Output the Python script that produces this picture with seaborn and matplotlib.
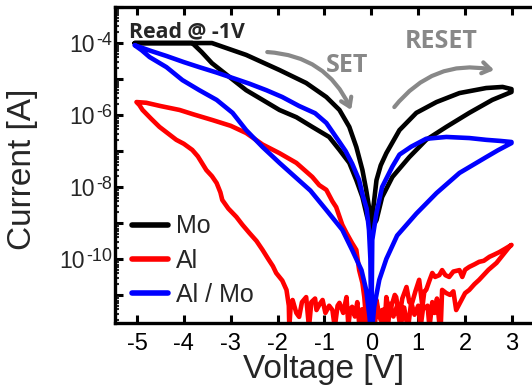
import numpy as np
import pandas as pd
import seaborn as sns
import matplotlib
matplotlib.use("Agg")
import matplotlib.pyplot as plt
from matplotlib.ticker import FixedLocator, FuncFormatter, LogLocator, NullFormatter

# ---------------- data (voltage [V], log10 current [A]) ----------------
mo_v = [0.00, -0.04, -0.11, -0.19, -0.32, -0.47, -0.68, -0.96, -1.39, -1.96, -2.67, -3.40,
        -5.05, -3.82, -3.62, -3.40, -3.03, -2.67, -2.32, -1.96, -1.60, -1.26, -0.90, -0.68,
        -0.47, -0.32, -0.19, -0.09, 0.00,
        0.04, 0.11, 0.20, 0.32, 0.60, 0.96, 1.39, 1.88, 2.45, 2.80, 2.99,
        2.99, 2.58, 2.09, 1.60, 1.17, 0.81, 0.45, 0.23, 0.11, 0.03, 0.00]
mo_log = [-9.20, -8.64, -8.08, -7.53, -6.89, -6.33, -5.86, -5.50, -5.11, -4.75, -4.33, -4.00,
          -4.00, -4.00, -4.25, -4.56, -4.94, -5.31, -5.58, -5.86, -6.06, -6.33, -6.61, -6.97,
          -7.33, -7.81, -8.28, -8.83, -9.20,
          -8.60, -7.81, -7.40, -7.06, -6.42, -5.94, -5.64, -5.39, -5.25, -5.22, -5.28,
          -5.36, -5.58, -5.94, -6.33, -6.69, -7.17, -7.72, -8.28, -8.92, -9.10, -9.20]

al_v = [-0.08, -0.11, -0.15, -0.19, -0.26, -0.32, -0.41, -0.53, -0.62, -0.75, -0.83, -0.96,
        -1.11, -1.26, -1.60, -1.96, -2.32, -2.67, -3.00, -3.39, -3.80, -4.09, -4.50, -4.80, -5.01,
        -4.95, -4.88, -4.70, -4.52, -4.35, -4.16, -4.00, -3.82, -3.70, -3.52, -3.40, -3.30,
        -3.22, -3.18, -3.05, -2.88, -2.75, -2.60, -2.45, -2.32, -2.20, -2.10, -2.03, -1.90,
        -1.81, -1.76, -1.75,
        -1.72, -1.68, -1.60, -1.54, -1.48, -1.39, -1.33, -1.28, -1.20, -1.17, -1.10, -1.04,
        -0.98, -0.90, -0.83, -0.78, -0.72, -0.68, -0.60, -0.53, -0.49, -0.45, -0.41, -0.35,
        -0.30, -0.26, -0.20, -0.15, -0.10, -0.05, 0.00,
        0.02, 0.06, 0.11, 0.17, 0.23, 0.28, 0.32, 0.38, 0.45, 0.50, 0.53, 0.60, 0.66, 0.75,
        0.81, 0.87, 0.94, 1.02, 1.09, 1.13, 1.17, 1.24, 1.30, 1.36, 1.45, 1.51, 1.58, 1.66,
        1.75, 1.88, 1.94, 2.00, 2.09, 2.20, 2.30, 2.40, 2.52, 2.62, 2.73, 2.85, 2.99,
        2.94, 2.80, 2.67, 2.50, 2.30, 2.20, 2.09, 2.00, 1.90, 1.81, 1.75, 1.68, 1.60, 1.51,
        1.48, 1.45, 1.40, 1.35, 1.30, 1.24, 1.20, 1.10, 1.05, 1.00, 0.92, 0.85, 0.78, 0.70,
        0.62, 0.55, 0.47, 0.40, 0.35, 0.27, 0.20, 0.12, 0.06, 0.00]
al_log = [-12.2, -11.7, -11.06, -10.67, -10.31, -9.75, -9.56, -9.28, -9.05, -8.56, -8.40, -8.08,
          -7.95, -7.72, -7.33, -7.06, -6.82, -6.50, -6.30, -6.14, -5.98, -5.86, -5.75, -5.66, -5.64,
          -5.72, -5.86, -6.10, -6.33, -6.50, -6.69, -6.80, -6.97, -7.15, -7.53, -7.70, -7.89,
          -8.15, -8.36, -8.60, -8.83, -9.05, -9.28, -9.50, -9.75, -10.0, -10.2, -10.39, -10.6,
          -10.86, -11.3, -11.9,
          -11.3, -11.14, -11.5, -11.61, -11.2, -11.06, -11.9, -11.2, -11.1, -11.42, -11.25, -11.14,
          -11.5, -11.3, -11.42, -11.9, -11.3, -11.22, -11.5, -11.06, -11.85, -11.4, -11.33, -11.6,
          -11.2, -11.78, -11.4, -11.9, -11.5, -12.0, -12.2,
          -11.69, -11.3, -11.14, -11.6, -11.42, -11.9, -11.06, -11.5, -11.22, -11.0, -11.06, -11.61,
          -11.1, -10.78, -11.2, -11.22, -10.9, -10.58, -11.33, -10.9, -10.86, -10.6, -10.39, -10.5,
          -10.45, -10.31, -10.45, -10.5, -10.35, -10.31, -10.5, -10.3, -10.22, -10.15, -10.08,
          -10.05, -9.94, -9.88, -9.81, -9.72, -9.61,
          -9.67, -9.90, -10.11, -10.3, -10.58, -10.7, -10.86, -10.95, -11.2, -11.42, -10.9, -11.0,
          -10.95, -10.86, -11.9, -11.78, -11.1, -11.5, -11.2, -11.9, -11.3, -11.4, -11.9, -11.3,
          -11.55, -11.2, -11.95, -11.35, -11.9, -11.3, -11.6, -11.25, -11.95, -11.4, -11.7, -11.35,
          -11.95, -12.2]

almo_v = [0.00, -0.02, -0.05, -0.10, -0.19, -0.26, -0.41, -0.55, -0.68, -0.96, -1.20, -1.54,
          -1.90, -2.24, -2.60, -2.96, -3.30, -3.67, -4.00, -4.37, -4.70, -5.05,
          -4.90, -4.73, -4.37, -4.03, -3.67, -3.30, -2.96, -2.67, -2.32, -1.96, -1.60, -1.30,
          -0.96, -0.62, -0.41, -0.21, -0.11, -0.04, 0.00,
          0.02, 0.11, 0.23, 0.45, 0.60, 0.85, 1.17, 1.60, 2.09, 2.45, 2.75, 2.99,
          2.99, 2.70, 2.45, 1.88, 1.39, 0.96, 0.55, 0.32, 0.17, 0.06, 0.00]
almo_log = [-12.2, -10.0, -9.20, -8.60, -8.20, -7.81, -7.35, -7.00, -6.75, -6.22, -5.95, -5.75,
            -5.50, -5.31, -5.13, -4.97, -4.82, -4.67, -4.53, -4.36, -4.22, -4.06,
            -4.20, -4.39, -4.67, -5.03, -5.31, -5.58, -5.94, -6.42, -6.89, -7.33, -7.75, -8.10,
            -8.64, -9.19, -9.75, -10.31, -10.86, -11.6, -12.2,
            -9.47, -8.72, -8.00, -7.43, -7.10, -6.88, -6.66, -6.61, -6.64, -6.69, -6.72, -6.75,
            -6.78, -6.98, -7.17, -7.61, -8.17, -8.74, -9.35, -10.0, -10.58, -11.33, -12.2]

devices = ["Mo", "Al", "Al / Mo"]
colors = ["#000000", "#ff0000", "#0000ff"]
x_ticks = [-5, -4, -3, -2, -1, 0, 1, 2, 3]
y_label_decades = [-10, -8, -6, -4]

frames = []
for name, v, lg in [("Mo", mo_v, mo_log), ("Al", al_v, al_log), ("Al / Mo", almo_v, almo_log)]:
    frames.append(pd.DataFrame({"Voltage": v, "Current": np.power(10.0, lg), "device": name}))
df = pd.concat(frames, ignore_index=True)

# ---------------- style ----------------
sns.set_style("ticks")
plt.rcParams["font.family"] = ["Liberation Sans", "DejaVu Sans"]

fig = plt.figure(figsize=(5.32, 3.92), dpi=100)
ax = fig.add_axes([0.216, 0.176, 0.786, 0.806])

sns.lineplot(data=df, x="Voltage", y="Current", hue="device", hue_order=devices,
             palette=colors, sort=False, estimator=None, linewidth=3.3, ax=ax)

ax.set_yscale("log")
ax.set_xlim(-5.47, 3.45)
ax.set_ylim(10 ** -11.78, 1e-3)

ax.xaxis.set_major_locator(FixedLocator(x_ticks))
ax.yaxis.set_major_locator(FixedLocator([10.0 ** k for k in range(-12, -2)]))
ax.yaxis.set_minor_locator(LogLocator(base=10, subs=np.arange(2, 10), numticks=30))
ax.yaxis.set_minor_formatter(NullFormatter())
ax.yaxis.set_major_formatter(NullFormatter())
ax.xaxis.set_major_formatter(FuncFormatter(lambda v, p: "%d" % v))

for s in ["left", "bottom", "top"]:
    ax.spines[s].set_linewidth(2.4)
    ax.spines[s].set_color("black")
ax.spines["right"].set_visible(False)

ax.tick_params(axis="both", which="major", direction="in", length=6, width=2.2,
               colors="black")
ax.tick_params(axis="x", top=True, labeltop=False, labelsize=17, pad=7)
ax.tick_params(axis="y", which="minor", direction="in", length=3, width=1.5)

# y tick labels "10" with raised exponent, right aligned next to the spine
renderer = fig.canvas.get_renderer()
for k in y_label_decades:
    e = ax.annotate("-%d" % (-k), xy=(0, 10.0 ** k), xycoords=("axes fraction", "data"),
                    xytext=(-3, 2.5), textcoords="offset pixels", ha="right", va="center",
                    fontsize=13)
    w = e.get_window_extent(renderer).width
    ax.annotate("10", xy=(0, 10.0 ** k), xycoords=("axes fraction", "data"),
                xytext=(-4 - w, -2.5), textcoords="offset pixels", ha="right", va="center",
                fontsize=16.5)

ax.set_xlabel("Voltage [V]", fontsize=24)
ax.xaxis.set_label_coords(0.5, -0.098)
ax.set_ylabel("Current [A]", fontsize=24)
ax.yaxis.set_label_coords(-0.184, 0.486)

# annotations
txt_font = ["Open Sans", "DejaVu Sans"]
ax.text(-5.16, 10 ** -3.833, "Read @ -1V", fontsize=15.3, fontweight="bold",
        family=txt_font, ha="left", va="baseline")
ax.text(-0.52, 10 ** -4.806, "SET", fontsize=18, fontweight="bold", color="#888888",
        family=txt_font, ha="center", va="baseline")
ax.text(1.49, 10 ** -4.139, "RESET", fontsize=18, fontweight="bold", color="#888888",
        family=txt_font, ha="center", va="baseline")

ax.annotate("", xy=(-0.43, 10 ** -5.86), xytext=(-2.22, 10 ** -4.25),
            arrowprops=dict(arrowstyle="->,head_length=0.6,head_width=0.4", color="#888888",
                            lw=3, connectionstyle="arc3,rad=-0.3", shrinkA=0, shrinkB=0))
ax.annotate("", xy=(2.62, 10 ** -4.75), xytext=(0.49, 10 ** -5.78),
            arrowprops=dict(arrowstyle="->,head_length=0.6,head_width=0.4", color="#888888",
                            lw=3, connectionstyle="arc3,rad=-0.3", shrinkA=0, shrinkB=0))

leg = ax.legend(loc="lower left", bbox_to_anchor=(0.029, 0.035), frameon=False, fontsize=18,
                handlelength=1.45, handletextpad=0.32, labelspacing=0.41, borderpad=0.2,
                borderaxespad=0)
for line in leg.get_lines():
    line.set_linewidth(4)

fig.savefig("out.png", dpi=100)
